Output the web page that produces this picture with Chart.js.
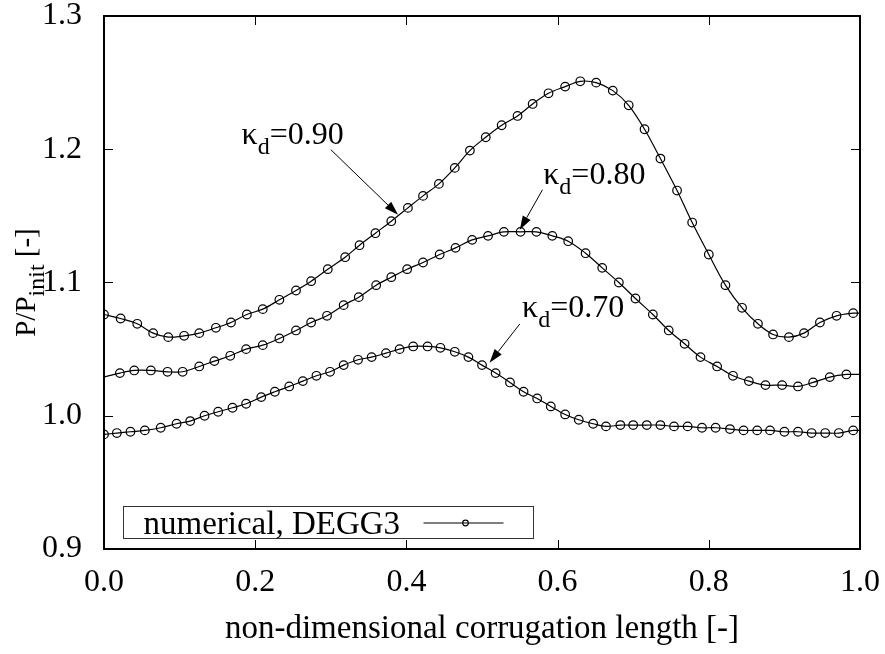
<!DOCTYPE html>
<html>
<head>
<meta charset="utf-8">
<script src="https://cdn.jsdelivr.net/npm/chart.js@4.4.1/dist/chart.umd.min.js"></script>
<style>
  body { margin: 0; background: #fff; }
</style>
</head>
<body>
<canvas id="mycanvas" width="885" height="654"></canvas>
<script>
// marker positions / values
var x90 = [0.000,0.022,0.044,0.065,0.085,0.106,0.126,0.148,0.168,0.189,0.210,0.232,0.254,0.274,0.296,0.319,
           0.338,0.359,0.380,0.402,0.422,0.443,0.464,0.484,0.505,0.526,0.547,0.567,0.588,0.610,0.630,0.651,
           0.673,0.694,0.715,0.736,0.758,0.778,0.800,0.822,0.844,0.865,0.885,0.906,0.926,0.947,0.969,0.991];
var y90 = [1.076,1.073,1.069,1.062,1.059,1.060,1.062,1.066,1.070,1.076,1.080,1.087,1.094,1.101,1.110,1.119,
           1.128,1.137,1.146,1.156,1.165,1.174,1.186,1.199,1.209,1.218,1.225,1.234,1.242,1.247,1.251,1.250,
           1.244,1.233,1.215,1.193,1.169,1.145,1.121,1.098,1.081,1.069,1.061,1.059,1.062,1.070,1.075,1.077];

var x80 = [0.021,0.040,0.062,0.084,0.104,0.126,0.146,0.167,0.188,0.210,0.232,0.254,0.274,0.295,0.317,0.337,
           0.360,0.380,0.401,0.422,0.444,0.465,0.487,0.508,0.529,0.551,0.572,0.593,0.614,0.637,0.659,0.681,
           0.703,0.726,0.747,0.768,0.789,0.811,0.832,0.853,0.875,0.897,0.918,0.938,0.960,0.982];
var y80 = [1.032,1.034,1.034,1.033,1.033,1.037,1.041,1.045,1.050,1.053,1.058,1.064,1.070,1.075,1.083,1.089,
           1.098,1.104,1.110,1.115,1.121,1.126,1.132,1.135,1.138,1.138,1.138,1.135,1.131,1.122,1.111,1.100,
           1.088,1.076,1.064,1.054,1.044,1.037,1.030,1.026,1.023,1.023,1.022,1.025,1.029,1.031];

var x70 = [0.000,0.017,0.035,0.054,0.075,0.096,0.114,0.133,0.151,0.170,0.188,0.208,0.226,0.245,0.263,0.281,
           0.299,0.317,0.336,0.354,0.373,0.391,0.409,0.428,0.445,0.464,0.482,0.500,0.518,0.537,0.555,0.573,
           0.591,0.610,0.628,0.647,0.664,0.683,0.700,0.718,0.736,0.754,0.772,0.791,0.809,0.828,0.846,0.864,
           0.881,0.900,0.918,0.936,0.954,0.972,0.991];
var y70 = [0.986,0.987,0.988,0.989,0.991,0.994,0.996,1.000,1.003,1.006,1.009,1.014,1.018,1.022,1.026,1.030,
           1.033,1.038,1.042,1.044,1.047,1.050,1.052,1.052,1.051,1.048,1.044,1.038,1.032,1.025,1.018,1.013,
           1.007,1.001,0.997,0.994,0.992,0.993,0.993,0.993,0.993,0.992,0.992,0.991,0.991,0.990,0.989,0.989,
           0.989,0.988,0.988,0.987,0.987,0.987,0.989];

// where the curves meet the frame (no marker there)
var start80 = 1.029;
var end90 = 1.077, end80 = 1.031, end70 = 0.989;

var xTicks = [0.0, 0.2, 0.4, 0.6, 0.8, 1.0];
var yTicks = [0.9, 1.0, 1.1, 1.2, 1.3];

// labels: subscript, rest, label pos, arrow from, arrow to (data units)
var notes = [
  { sub: "d", rest: "=0.90", at: [0.182, 1.204], from: [0.300, 1.1997], to: [0.389, 1.1508] },
  { sub: "d", rest: "=0.80", at: [0.581, 1.174], from: [0.580, 1.1696], to: [0.550, 1.1395] },
  { sub: "d", rest: "=0.70", at: [0.553, 1.0744], from: [0.550, 1.0689], to: [0.510, 1.0398] }
];

var SERIF = "'Liberation Serif', 'Times New Roman', serif";

function pts(xs, ys) {
  var out = [];
  for (var i = 0; i < xs.length; i++) out.push({ x: xs[i], y: ys[i] });
  return out;
}

var line90 = pts(x90, y90).concat([{ x: 1, y: end90 }]);
var line80 = [{ x: 0, y: start80 }].concat(pts(x80, y80), [{ x: 1, y: end80 }]);
var line70 = pts(x70, y70).concat([{ x: 1, y: end70 }]);

function lineSet(data) {
  return { data: data, showLine: true, borderColor: "#000", borderWidth: 1.2,
           tension: 0.35, pointRadius: 0, fill: false };
}
function markSet(data) {
  return { data: data, showLine: false, pointRadius: 4.3, pointBorderWidth: 1.2,
           pointBorderColor: "#000", pointBackgroundColor: "rgba(0,0,0,0)" };
}

var frameTicks = {
  id: "frameTicks",
  afterDatasetsDraw: function(chart) {
    var ctx = chart.ctx, a = chart.chartArea, sx = chart.scales.x, sy = chart.scales.y;
    ctx.save();
    ctx.strokeStyle = "#000";
    ctx.lineWidth = 1;
    ctx.beginPath();
    xTicks.forEach(function(v) {
      var p = Math.round(sx.getPixelForValue(v)) + 0.5;
      ctx.moveTo(p, a.bottom); ctx.lineTo(p, a.bottom - 9);
      ctx.moveTo(p, a.top); ctx.lineTo(p, a.top + 9);
    });
    yTicks.forEach(function(v) {
      var p = Math.round(sy.getPixelForValue(v)) + 0.5;
      ctx.moveTo(a.left, p); ctx.lineTo(a.left + 9, p);
      ctx.moveTo(a.right, p); ctx.lineTo(a.right - 9, p);
    });
    ctx.stroke();
    ctx.lineWidth = 2;
    ctx.strokeRect(a.left, a.top, a.right - a.left, a.bottom - a.top);

    // y axis title with subscript
    ctx.fillStyle = "#000";
    ctx.textBaseline = "alphabetic";
    var mainF = "29px " + SERIF, subF = "24px " + SERIF;
    ctx.font = mainF; var w1 = ctx.measureText("P/P").width;
    ctx.font = subF; var w2 = ctx.measureText("init").width;
    ctx.font = mainF; var w3 = ctx.measureText(" [-]").width;
    var tot = w1 + w2 + w3;
    ctx.save();
    ctx.translate(35, (a.top + a.bottom) / 2);
    ctx.rotate(-Math.PI / 2);
    var sx0 = -tot / 2;
    ctx.font = mainF; ctx.fillText("P/P", sx0, 0);
    ctx.font = subF; ctx.fillText("init", sx0 + w1, 9);
    ctx.font = mainF; ctx.fillText(" [-]", sx0 + w1 + w2, 0);
    ctx.restore();

    // kappa labels and arrows
    notes.forEach(function(n) {
      var px = sx.getPixelForValue(n.at[0]), py = sy.getPixelForValue(n.at[1]);
      ctx.font = "32px " + SERIF;
      ctx.fillText("\u03ba", px, py);
      var k = ctx.measureText("\u03ba").width;
      ctx.font = "24px " + SERIF;
      ctx.fillText(n.sub, px + k, py + 10);
      var d = ctx.measureText(n.sub).width;
      ctx.font = "32px " + SERIF;
      ctx.fillText(n.rest, px + k + d, py);

      var x1 = sx.getPixelForValue(n.from[0]), y1 = sy.getPixelForValue(n.from[1]);
      var x2 = sx.getPixelForValue(n.to[0]), y2 = sy.getPixelForValue(n.to[1]);
      var ang = Math.atan2(y2 - y1, x2 - x1), hl = 14, hw = 4.5;
      var bx = x2 - hl * Math.cos(ang), by = y2 - hl * Math.sin(ang);
      ctx.lineWidth = 1;
      ctx.beginPath(); ctx.moveTo(x1, y1); ctx.lineTo(bx, by); ctx.stroke();
      ctx.beginPath();
      ctx.moveTo(x2, y2);
      ctx.lineTo(bx + hw * Math.sin(ang), by - hw * Math.cos(ang));
      ctx.lineTo(bx - hw * Math.sin(ang), by + hw * Math.cos(ang));
      ctx.closePath(); ctx.fill();
    });

    // key box
    var lx = a.left + 19.5, ly = a.bottom - 42.5, lw = 410, lh = 32;
    ctx.fillStyle = "#fff";
    ctx.fillRect(lx, ly, lw, lh);
    ctx.strokeStyle = "#333";
    ctx.lineWidth = 1;
    ctx.strokeRect(lx, ly, lw, lh);
    ctx.fillStyle = "#000";
    ctx.strokeStyle = "#000";
    ctx.font = "33px " + SERIF;
    ctx.fillText("numerical, DEGG3", lx + 20, ly + 27.5);
    var my = ly + 16.5;
    ctx.lineWidth = 1.2;
    ctx.beginPath(); ctx.moveTo(lx + 300, my); ctx.lineTo(lx + 380, my); ctx.stroke();
    ctx.beginPath(); ctx.arc(lx + 342, my, 2.8, 0, Math.PI * 2); ctx.stroke();
    ctx.restore();
  }
};

var ctx = document.getElementById("mycanvas");
var LineGraph = new Chart(ctx, {
  type: "scatter",
  data: {
    datasets: [
      lineSet(line90), markSet(pts(x90, y90)),
      lineSet(line80), markSet(pts(x80, y80)),
      lineSet(line70), markSet(pts(x70, y70))
    ]
  },
  options: {
    responsive: false,
    animation: false,
    devicePixelRatio: 1,
    layout: { padding: { left: 0, right: 25, top: 16, bottom: 0 } },
    plugins: { legend: { display: false }, tooltip: { enabled: false } },
    scales: {
      x: {
        type: "linear", min: 0, max: 1,
        grid: { display: false, drawTicks: false },
        border: { display: false },
        afterBuildTicks: function(s) { s.ticks = xTicks.map(function(v) { return { value: v }; }); },
        ticks: { padding: 18, color: "#000", maxRotation: 0, autoSkip: false,
                 font: { family: SERIF, size: 32, lineHeight: 1 },
                 callback: function(v) { return Number(v).toFixed(1); } },
        title: { display: true, text: "non-dimensional corrugation length [-]", color: "#000",
                 font: { family: SERIF, size: 33, lineHeight: 1.2 }, padding: { top: 0, bottom: 5 } },
        afterFit: function(s) { s.height = 105; s.paddingLeft = 0; s.paddingRight = 0; }
      },
      y: {
        type: "linear", min: 0.9, max: 1.3,
        grid: { display: false, drawTicks: false },
        border: { display: false },
        afterBuildTicks: function(s) { s.ticks = yTicks.map(function(v) { return { value: v }; }); },
        ticks: { padding: 22, color: "#000",
                 font: { family: SERIF, size: 32, lineHeight: 0.9 },
                 callback: function(v) { return Number(v).toFixed(1); } },
        afterFit: function(s) { s.width = 104; s.paddingTop = 0; s.paddingBottom = 0; }
      }
    }
  },
  plugins: [frameTicks]
});
</script>
</body>
</html>
